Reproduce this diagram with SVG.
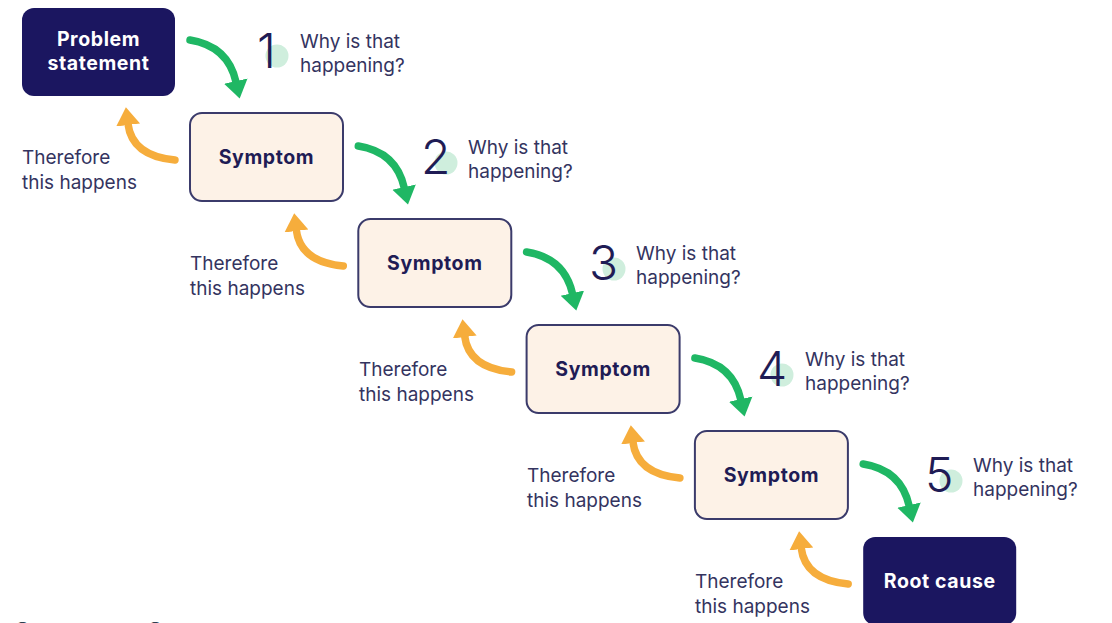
<svg xmlns="http://www.w3.org/2000/svg" width="1112" height="623" viewBox="0 0 1112 623">
<style>
.dark{fill:#1b1660}
.sym{fill:#fdf2e7;stroke:#3b3b6b;stroke-width:2}
.lbl{font-family:Inter,"Liberation Sans",sans-serif;font-weight:700;font-size:19.5px;letter-spacing:0.6px;text-anchor:middle}
.wt{fill:#ffffff}
.nv{fill:#1f1c55}
.txt{font-family:Inter,"Liberation Sans",sans-serif;font-size:19px;fill:#34345f}
.num{font-family:Inter,"Liberation Sans",sans-serif;font-weight:300;font-size:48px;fill:#1f1c55}
.dot{fill:#cfeedd}
.g{fill:none;stroke:#1fb764;stroke-width:7.5;stroke-linecap:round}
.o{fill:none;stroke:#f6ad3c;stroke-width:7.5;stroke-linecap:round}
.foot{font-family:Inter,"Liberation Sans",sans-serif;font-weight:700;font-size:36px;fill:#2c3e50}
</style>
<defs>
<marker id="ag" markerUnits="userSpaceOnUse" markerWidth="20" markerHeight="26" refX="1" refY="13" orient="auto"><path d="M0,1 L18,13 L0,25 Z" fill="#1fb764"/></marker>
<marker id="ao" markerUnits="userSpaceOnUse" markerWidth="20" markerHeight="26" refX="1" refY="13" orient="auto"><path d="M0,1 L18,13 L0,25 Z" fill="#f6ad3c"/></marker>
</defs>

<g id="connectors">
<g id="step0"><path class="g" d="M190,40 Q228,46 236,82" marker-end="url(#ag)"/><path class="o" d="M175,160 Q132,156 128,124" marker-end="url(#ao)"/></g>
<g transform="translate(168.3,106)"><path class="g" d="M190,40 Q228,46 236,82" marker-end="url(#ag)"/><path class="o" d="M175,160 Q132,156 128,124" marker-end="url(#ao)"/></g>
<g transform="translate(336.6,212)"><path class="g" d="M190,40 Q228,46 236,82" marker-end="url(#ag)"/><path class="o" d="M175,160 Q132,156 128,124" marker-end="url(#ao)"/></g>
<g transform="translate(504.9,318)"><path class="g" d="M190,40 Q228,46 236,82" marker-end="url(#ag)"/><path class="o" d="M175,160 Q132,156 128,124" marker-end="url(#ao)"/></g>
<g transform="translate(673.2,424)"><path class="g" d="M190,40 Q228,46 236,82" marker-end="url(#ag)"/><path class="o" d="M175,160 Q132,156 128,124" marker-end="url(#ao)"/></g>
</g>

<g id="problem">
<rect class="dark" x="22" y="8" width="153" height="88" rx="12"/>
<text class="lbl wt" x="98.5" y="46">Problem</text>
<text class="lbl wt" x="98.5" y="70">statement</text>
</g>

<g id="symptom1"><rect class="sym" x="190" y="113" width="153" height="88" rx="12"/><text class="lbl nv" x="266.5" y="164">Symptom</text></g>
<g id="symptom2"><rect class="sym" x="358.3" y="219" width="153" height="88" rx="12"/><text class="lbl nv" x="434.8" y="270">Symptom</text></g>
<g id="symptom3"><rect class="sym" x="526.6" y="325" width="153" height="88" rx="12"/><text class="lbl nv" x="603.1" y="376">Symptom</text></g>
<g id="symptom4"><rect class="sym" x="694.9" y="431" width="153" height="88" rx="12"/><text class="lbl nv" x="771.4" y="482">Symptom</text></g>

<g id="rootcause">
<rect class="dark" x="863.2" y="537" width="153" height="88" rx="12"/>
<text class="lbl wt" x="939.7" y="588">Root cause</text>
</g>

<g id="why1"><circle class="dot" cx="277" cy="56" r="11.5"/><text class="num" x="257" y="68">1</text><text class="txt" x="300" y="48">Why is that</text><text class="txt" x="300" y="72">happening?</text></g>
<g id="why2"><circle class="dot" cx="446" cy="163" r="11.5"/><text class="num" x="421" y="174">2</text><text class="txt" x="468" y="154">Why is that</text><text class="txt" x="468" y="178">happening?</text></g>
<g id="why3"><circle class="dot" cx="614" cy="269" r="11.5"/><text class="num" x="589" y="280">3</text><text class="txt" x="636" y="260">Why is that</text><text class="txt" x="636" y="284">happening?</text></g>
<g id="why4"><circle class="dot" cx="782" cy="375" r="11.5"/><text class="num" x="757" y="386">4</text><text class="txt" x="805" y="366">Why is that</text><text class="txt" x="805" y="390">happening?</text></g>
<g id="why5"><circle class="dot" cx="951" cy="481" r="11.5"/><text class="num" x="925" y="492">5</text><text class="txt" x="973" y="472">Why is that</text><text class="txt" x="973" y="496">happening?</text></g>

<g id="therefore1"><text class="txt" x="22" y="164">Therefore</text><text class="txt" x="22" y="189">this happens</text></g>
<g id="therefore2"><text class="txt" x="190" y="270">Therefore</text><text class="txt" x="190" y="295">this happens</text></g>
<g id="therefore3"><text class="txt" x="359" y="376">Therefore</text><text class="txt" x="359" y="401">this happens</text></g>
<g id="therefore4"><text class="txt" x="527" y="482">Therefore</text><text class="txt" x="527" y="507">this happens</text></g>
<g id="therefore5"><text class="txt" x="695" y="588">Therefore</text><text class="txt" x="695" y="613">this happens</text></g>

<text class="foot" x="12" y="650">f 5Ws of</text>
</svg>
